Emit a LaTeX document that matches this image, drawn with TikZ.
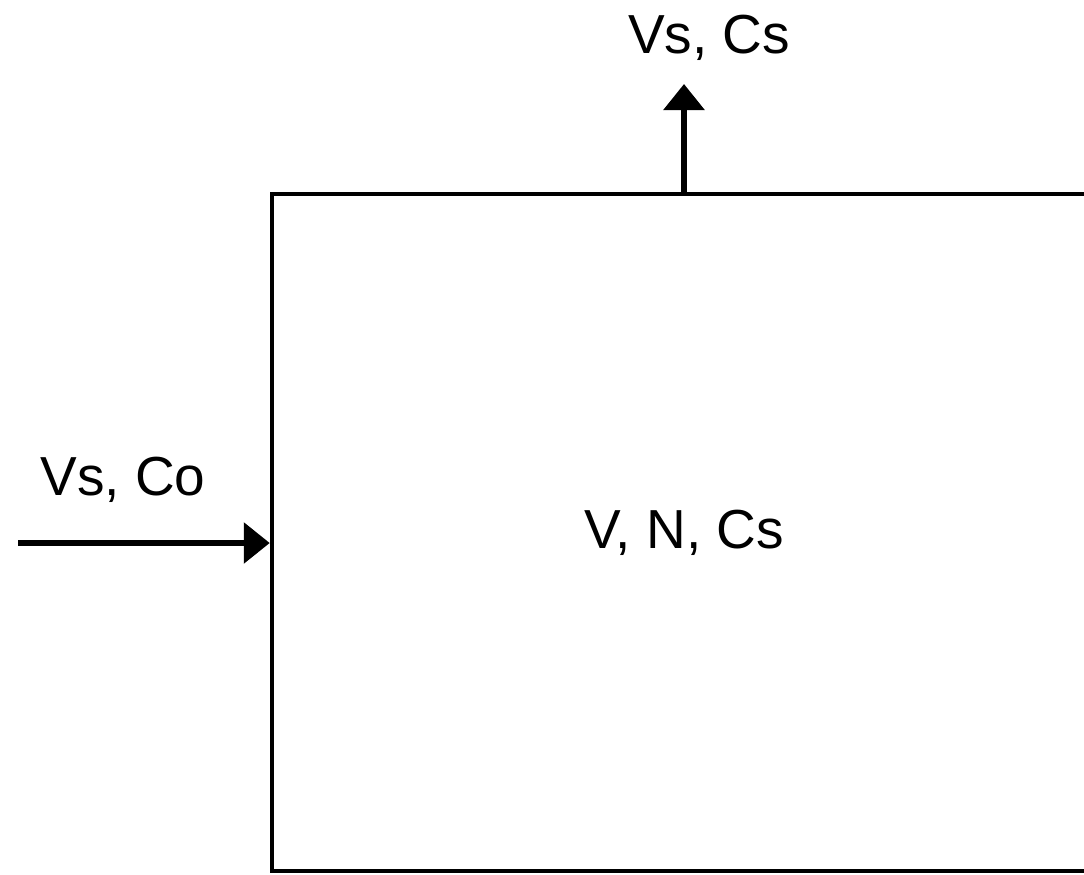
\documentclass[tikz,border=0pt]{standalone}
\usepackage{fontspec}
\setmainfont{Liberation Sans}
\usetikzlibrary{arrows.meta}
\begin{document}
\begin{tikzpicture}[x=1pt,y=-1pt,
  lbl/.style={font=\fontsize{55}{60}\selectfont, inner sep=0pt},
  flow/.style={line width=6pt, -{Triangle[length=26pt,width=40pt]}}]
\clip (0,0) rectangle (1084,875);
\useasboundingbox (0,0) rectangle (1084,875);
\node[draw, line width=4.5pt, minimum width=824pt, minimum height=677pt, inner sep=0pt,
  lbl] (box) at (684,532.5) {V, N, Cs};
\coordinate (inS) at (18,543);
\coordinate (outT) at (684,84);
\draw[flow] (inS) -- (inS -| box.west);
\draw[flow] (box.north) -- (outT);
\node[lbl] (outL) at (709,38) {Vs, Cs};
\node[lbl] (inL) at (123,480) {Vs, Co};
\end{tikzpicture}
\end{document}
